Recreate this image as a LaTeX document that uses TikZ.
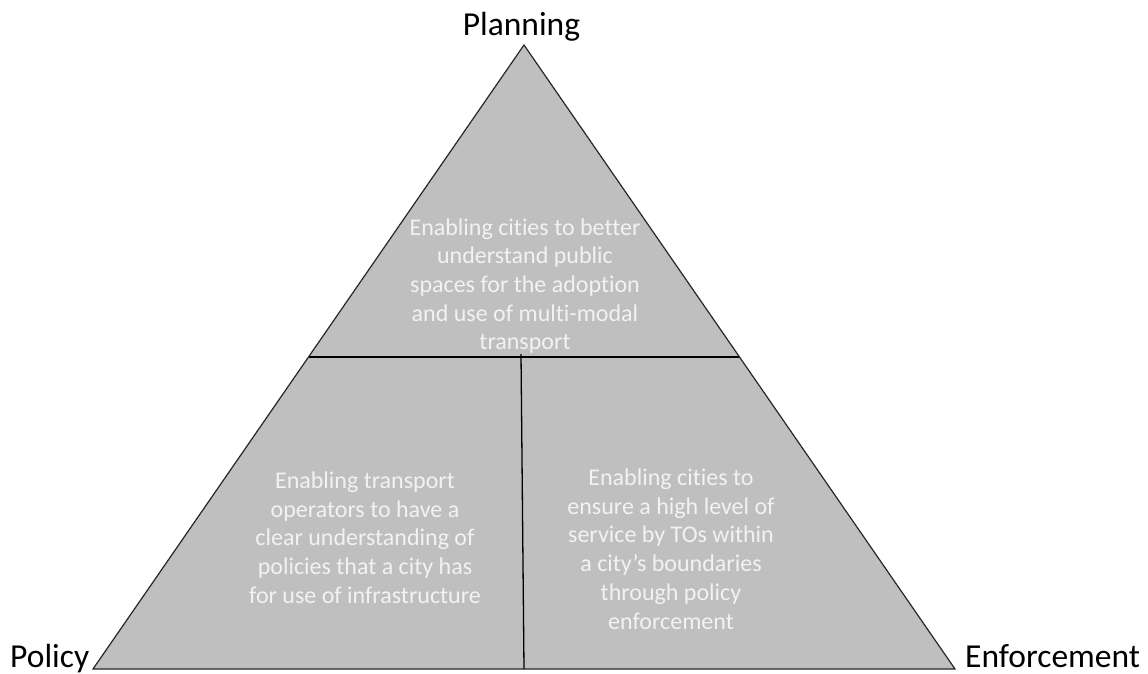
\documentclass[tikz,border=0pt]{standalone}
\usepackage{fontspec}
\setmainfont{Carlito}[RawFeature={-liga;-clig}]
\definecolor{pyrfill}{HTML}{BFBFBF}
\definecolor{pyrtext}{HTML}{F2F2F2}
\begin{document}
\begin{tikzpicture}[x=1pt,y=-1pt,
  edge/.style={draw=black!85, line width=1.2pt, line join=miter},
  divider/.style={draw=black, line width=1.3pt},
  inner/.style={text=pyrtext, align=center, inner sep=0pt,
    font=\fontsize{24}{28.7}\selectfont},
  corner/.style={text=black, inner sep=0pt, font=\fontsize{33.5}{40}\selectfont}]
\useasboundingbox (0,0) rectangle (1148,674);

% corners of the pyramid
\coordinate (apex) at (524,45);
\coordinate (bl) at (93,669);
\coordinate (br) at (955,669);
% dividing lines
\coordinate (hl) at (308.5,357);
\coordinate (hr) at (739.5,357);
\coordinate (vt) at (521,354);
\coordinate (vb) at (524,669);

\fill[pyrfill] (apex) -- (bl) -- (br) -- cycle;
\draw[divider] (hl) -- (hr);
\draw[divider] (vt) -- (vb);
\draw[edge] (apex) -- (bl) -- (br) -- cycle;

% section texts
\node[inner] (top) at (525,286) {Enabling cities to better\\understand public\\spaces for the adoption\\and use of multi-modal\\transport};
\node[inner] (left) at (365,537.5) {Enabling transport\\operators to have a\\clear understanding of\\policies that a city has\\for use of infrastructure};
\node[inner] (right) at (671,549) {Enabling cities to\\ensure a high level of\\service by TOs within\\a city’s boundaries\\through policy\\enforcement};

% corner labels
\node[corner, anchor=base] (planning) at (521.5,36) {Planning};
\node[corner, anchor=base west] (policy) at (10,667) {Policy};
\node[corner, anchor=base west] (enforcement) at (965,667) {Enforcement};
\end{tikzpicture}
\end{document}
